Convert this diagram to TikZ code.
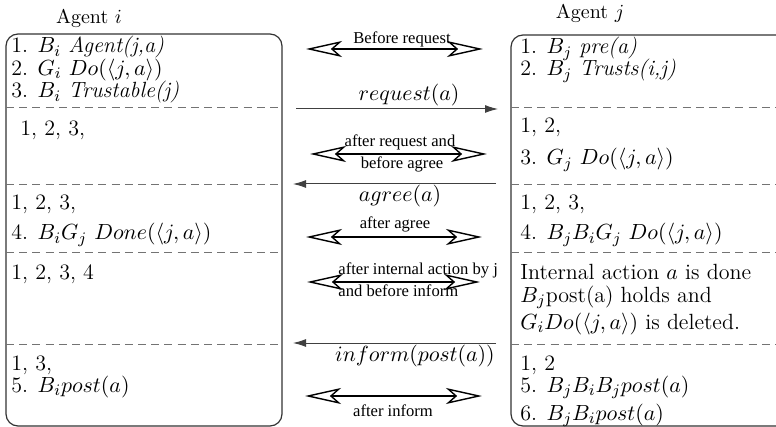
\documentclass[tikz,border=0pt]{standalone}
\usepackage{fontspec}
\newfontfamily\timesf{Liberation Serif}
\usetikzlibrary{arrows.meta}
\tikzset{
  boxline/.style={draw=black!80, line width=0.6pt, rounded corners=6pt},
  sepline/.style={draw=black!55, line width=0.5pt, dash pattern=on 4pt off 2.6pt},
  msg/.style={draw=black!75, line width=0.5pt, -{Latex[length=6.5pt,width=4pt]}},
  phase/.style={draw=black, line width=1pt, {Stealth[open,length=18pt,width=8pt,inset=4.5pt,line width=0.7pt]}-{Stealth[open,length=18pt,width=8pt,inset=4.5pt,line width=0.7pt]}},
  txt/.style={anchor=base west, inner sep=0pt, font=\fontsize{11}{13}\selectfont},
  head/.style={anchor=base, inner sep=0pt, font=\fontsize{10}{12}\selectfont},
  lbl/.style={anchor=base, inner sep=0pt, font=\timesf\fontsize{8.3}{9}\selectfont},
  lbll/.style={anchor=base west, inner sep=0pt, font=\timesf\fontsize{8.3}{9}\selectfont},
  mlbl/.style={anchor=base, inner sep=0pt, font=\fontsize{11}{13}\selectfont},
}
\begin{document}
\begin{tikzpicture}[x=0.5pt,y=-0.5pt]
\useasboundingbox (0,0) rectangle (776,427);
\clip (0,0) rectangle (776,427);
% headings
\node[head] (hi) at (89,24) {Agent $i$};
\node[head] (hj) at (590,19) {Agent $j$};
% boxes
\draw[boxline] (6,34) rectangle (282,426);
\draw[boxline] (511,35) rectangle (800,426);
% separators
\foreach \yy in {108,185,253,344}{
  \draw[sepline] (6,\yy) -- (282,\yy);
  \draw[sepline] (511,\yy) -- (776,\yy);
}
% left column
\node[txt] (l1) at (11,53) {1. $B_i$ \textit{Agent(j,a)}};
\node[txt] (l2) at (11,75.5) {2. $G_i$ $Do(\langle j,a\rangle)$};
\node[txt] (l3) at (11,98) {3. $B_i$ \textit{Trustable(j)}};
\node[txt] (l4) at (20,136) {1, 2, 3,};
\node[txt] (l5) at (11,210) {1, 2, 3,};
\node[txt] (l6) at (11,240) {4. $B_iG_j$ $Done(\langle j,a\rangle)$};
\node[txt] (l7) at (11,279) {1, 2, 3, 4};
\node[txt] (l8) at (11,370) {1, 3,};
\node[txt] (l9) at (11,392) {5. $B_i post(a)$};
% right column
\node[txt] (r1) at (520,54) {1. $B_j$ \textit{pre(a)}};
\node[txt] (r2) at (520,76) {2. $B_j$ \textit{Trusts(i,j)}};
\node[txt] (r3) at (520,133) {1, 2,};
\node[txt] (r4) at (520,165) {3. $G_j$ $Do(\langle j,a\rangle)$};
\node[txt] (r5) at (520,210) {1, 2, 3,};
\node[txt] (r6) at (520,240) {4. $B_jB_iG_j$ $Do(\langle j,a\rangle)$};
\node[txt] (r7) at (520,279) {Internal action $a$ is done};
\node[txt] (r8) at (520,302) {$B_j$post(a) holds and};
\node[txt] (r9) at (520,329) {$G_iDo(\langle j,a\rangle)$ is deleted.};
\node[txt] (r10) at (520,370) {1, 2};
\node[txt] (r11) at (520,392) {5. $B_jB_iB_j post(a)$};
\node[txt] (r12) at (520,420) {6. $B_jB_i post(a)$};
% arrow end points
\coordinate (p1a) at (306,49);  \coordinate (p1b) at (483,49);
\coordinate (m1a) at (296,109); \coordinate (m1b) at (498,109);
\coordinate (p2a) at (310,154); \coordinate (p2b) at (487,154);
\coordinate (m2a) at (496,184); \coordinate (m2b) at (293,184);
\coordinate (p3a) at (306,237); \coordinate (p3b) at (482,237);
\coordinate (p4a) at (307,282); \coordinate (p4b) at (480,282);
\coordinate (m3a) at (496,343); \coordinate (m3b) at (293,343);
\coordinate (p5a) at (305,396); \coordinate (p5b) at (482,396);
% arrows
\draw[phase] (p1a) -- (p1b);
\draw[msg] (m1a) -- (m1b);
\draw[phase] (p2a) -- (p2b);
\draw[msg] (m2a) -- (m2b);
\draw[phase] (p3a) -- (p3b);
\draw[phase] (p4a) -- (p4b);
\draw[msg] (m3a) -- (m3b);
\draw[phase] (p5a) -- (p5b);
% labels
\node[lbl] (t1) at (402,44) {Before request};
\node[mlbl] (t2) at (409,101) {$request(a)$};
\node[lbl] (t3) at (400,147) {after request and};
\node[lbl] (t4) at (402,169) {before agree};
\node[mlbl] (t5) at (400,202) {$agree(a)$};
\node[lbl] (t6) at (395,229) {after agree};
\node[lbll] (t7) at (338,275) {after internal action by j};
\node[lbll] (t8) at (338,297) {and before inform};
\node[mlbl] (t9) at (415,361) {$inform(post(a))$};
\node[lbl] (t10) at (393,416) {after inform};
\end{tikzpicture}
\end{document}
